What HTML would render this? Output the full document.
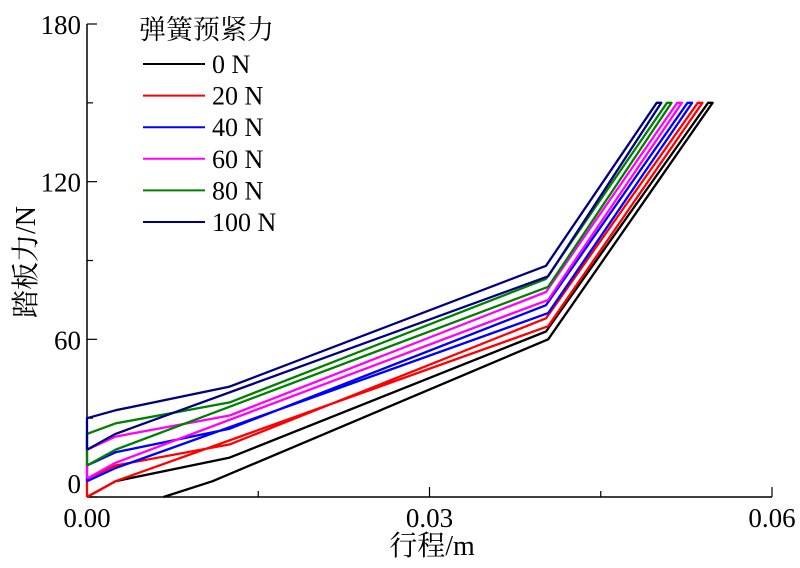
<!DOCTYPE html>
<html><head><meta charset="utf-8">
<style>
body{margin:0;background:#fff;}
svg text{font-family:"Liberation Serif","Noto Serif CJK SC",serif;fill:#000;}
</style></head>
<body>
<svg id="chart" width="800" height="563" viewBox="0 0 800 563" xmlns="http://www.w3.org/2000/svg">
<g id="axes"></g>
<g id="series"></g>
<g id="legend"></g>
</svg>
<script>
const preloads = ["0 N","20 N","40 N","60 N","80 N","100 N"];
const colors = ["#000000","#ff0000","#0000ff","#ff00ff","#008000","#000080"];
// upper (return) branch values
const upperStart = [0,7,12,18,24,30];
const upperBend = [6,12,17,23,28,33];
const upperKnee = [15,20,26,31,36,42];
const upperKink = [63,68,73,78,83,88];
// lower (loading) branch values
const lowerStartX = [0.0067,0,0,0,0,0];
const lowerStart = [0,0,6,7,12,18];
const lowerBend = [6,6,11,13,18,24];
const lowerKink = [60,65,70,75,80,84];
const topX = [0.0548,0.0539,0.0530,0.0521,0.0512,0.0503];
const topY = [150,150,150,150,150,150];
const xTicks = [0,0.03,0.06];
const xTickLabels = ["0.00","0.03","0.06"];
const yTicks = [0,60,120,180];
const yTickLabels = ["0","60","120","180"];

const X0=87,X1=772,Y0=497,Y1=24;
const sx=v=>X0+(v/0.06)*(X1-X0);
const sy=v=>Y0-(v/180)*(Y0-Y1);
const NS="http://www.w3.org/2000/svg";
function mk(tag,attrs,parent){const e=document.createElementNS(NS,tag);for(const k in attrs)e.setAttribute(k,attrs[k]);parent.appendChild(e);return e;}

const axes=document.getElementById('axes');
let l=mk('line',{x1:X0,y1:Y0,x2:X1,y2:Y0,stroke:'#000','stroke-width':1.5},axes);


l=mk('line',{x1:X0,y1:Y0,x2:X0,y2:Y1,stroke:'#000','stroke-width':1.5},axes);


[0,0.015,0.03,0.045,0.06].forEach(v=>{
  const major=xTicks.includes(v);
  const t=mk('line',{x1:sx(v),y1:Y0,x2:sx(v),y2:Y0-(major?10:6),stroke:'#000','stroke-width':1.2},axes);
  
  
});
xTicks.forEach((v,i)=>{
  const t=mk('text',{x:sx(v),y:527,'font-size':27,'text-anchor':'middle'},axes);
  t.textContent=xTickLabels[i];
  
  
});
[0,30,60,90,120,150,180].forEach(v=>{
  const major=yTicks.includes(v);
  const t=mk('line',{x1:X0,y1:sy(v),x2:X0+(major?10:6),y2:sy(v),stroke:'#000','stroke-width':1.2},axes);
  
  
});
yTicks.forEach((v,i)=>{
  const t=mk('text',{x:81,y:sy(v)+(v===0?-4:10),'font-size':27,'text-anchor':'end'},axes);
  t.textContent=yTickLabels[i];
  
  
});
let xt=mk('text',{x:432,y:555,'font-size':28,'text-anchor':'middle'},axes);
xt.textContent='行程/m';


let yt=mk('text',{x:0,y:0,'font-size':28,'text-anchor':'middle',transform:'translate(35,262) rotate(-90)'},axes);
yt.textContent='踏板力/N';



const sg=document.getElementById('series');
preloads.forEach((p,i)=>{
  const pts=[
    [lowerStartX[i],lowerStart[i]],
    [lowerStartX[i]+0.0025+(i===0?0.0018:0),lowerBend[i]],
    [0.0404,lowerKink[i]],
    [topX[i],topY[i]],
    [topX[i]-0.0004,topY[i]],
    [0.0402,upperKink[i]],
    [0.0125,upperKnee[i]],
    [0.0025,upperBend[i]],
    [0,upperStart[i]],
    [0,lowerStart[i]]
  ];
  const d=pts.map((q,j)=>(j?'L':'M')+sx(q[0]).toFixed(1)+','+sy(q[1]).toFixed(1)).join(' ');
  const path=mk('path',{d:d,fill:'none',stroke:colors[i],'stroke-width':2.3,'stroke-linejoin':'round'},sg);
  
  
});

const lg=document.getElementById('legend');
let tt=mk('text',{x:139,y:39,'font-size':27},lg);
tt.textContent='弹簧预紧力';


preloads.forEach((p,i)=>{
  const y=64+i*31.6;
  const g=mk('g',{},lg);
  
  
  mk('line',{x1:143,y1:y,x2:205,y2:y,stroke:colors[i],'stroke-width':2},g);
  const t=mk('text',{x:212,y:y+9,'font-size':26},g);
  t.textContent=p;
});
</script>
</body></html>
